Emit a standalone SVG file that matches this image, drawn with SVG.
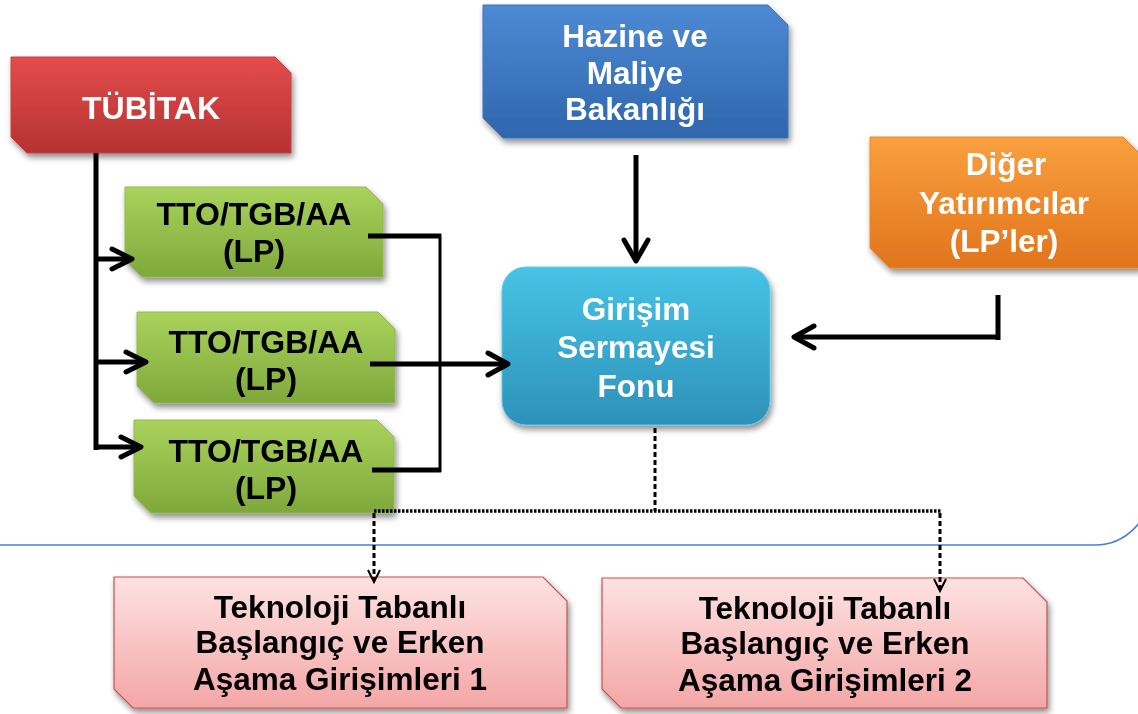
<svg xmlns="http://www.w3.org/2000/svg" width="1138" height="714" viewBox="0 0 1138 714">
<style>
text{font-family:"Liberation Sans",Arial,sans-serif;font-weight:bold;font-size:31.5px;text-anchor:middle}
.big{font-size:32px}
.w{fill:#ffffff}
.k{fill:#000000}
.ln{fill:none;stroke:#000;stroke-width:5;stroke-linecap:butt}
.thin{fill:none;stroke:#000;stroke-width:3}
.dash{fill:none;stroke:#000;stroke-width:3;stroke-dasharray:5 3}
.dot{fill:none;stroke:#000;stroke-width:3.5;stroke-dasharray:2.5 1.5}
.head{fill:none;stroke:#000;stroke-width:5;stroke-linecap:round;stroke-linejoin:round}
.shead{fill:none;stroke:#000;stroke-width:2;stroke-linejoin:miter}
</style>
<defs>
<filter id="sh" x="-10%" y="-10%" width="130%" height="140%">
<feGaussianBlur in="SourceAlpha" stdDeviation="3"/>
<feOffset dx="2" dy="4" result="b"/>
<feComponentTransfer><feFuncA type="linear" slope="0.45"/></feComponentTransfer>
<feMerge><feMergeNode/><feMergeNode in="SourceGraphic"/></feMerge>
</filter>
<linearGradient id="gRed" x1="0" y1="0" x2="0" y2="1"><stop offset="0" stop-color="#e44c4c"/><stop offset="1" stop-color="#b53232"/></linearGradient>
<linearGradient id="gGreen" x1="0" y1="0" x2="0" y2="1"><stop offset="0" stop-color="#a9d35c"/><stop offset="1" stop-color="#7fa83b"/></linearGradient>
<linearGradient id="gBlue" x1="0" y1="0" x2="0" y2="1"><stop offset="0" stop-color="#4d8ad4"/><stop offset="1" stop-color="#2f66ad"/></linearGradient>
<linearGradient id="gOrange" x1="0" y1="0" x2="0" y2="1"><stop offset="0" stop-color="#faa03e"/><stop offset="1" stop-color="#e0741c"/></linearGradient>
<linearGradient id="gCyan" x1="0" y1="0" x2="0" y2="1"><stop offset="0" stop-color="#46c3e6"/><stop offset="1" stop-color="#2e91b9"/></linearGradient>
<linearGradient id="gPink" x1="0" y1="0" x2="0" y2="1"><stop offset="0" stop-color="#fde2e2"/><stop offset="1" stop-color="#f4a6a6"/></linearGradient>
</defs>

<rect width="1138" height="714" fill="#ffffff"/>

<path id="frame" d="M0,545 H1095 A55,55 0 0 0 1150,490" fill="none" stroke="#4a7fd0" stroke-width="1.6"/>

<g id="tubitak" filter="url(#sh)">
<polygon points="11,57 275,57 291,73 291,153 27,153 11,137" fill="url(#gRed)" stroke="#c44040" stroke-width="1"/>
<text class="w big" x="151" y="119">TÜBİTAK</text>
</g>

<g id="hazine" filter="url(#sh)">
<polygon points="483,5 768,5 788,25 788,138 503,138 483,118" fill="url(#gBlue)" stroke="#3a74c0" stroke-width="1"/>
<text class="w" x="635" y="47">Hazine ve</text>
<text class="w" x="635" y="84">Maliye</text>
<text class="w" x="635" y="120">Bakanlığı</text>
</g>

<g id="diger" filter="url(#sh)">
<polygon points="870,137 1123,137 1142,156 1142,268 890,268 870,248" fill="url(#gOrange)" stroke="#e8882c" stroke-width="1"/>
<text class="w" x="1006" y="175">Diğer</text>
<text class="w" x="1004" y="214">Yatırımcılar</text>
<text class="w" x="1004" y="252">(LP’ler)</text>
</g>

<g id="tto1" filter="url(#sh)">
<polygon points="125,187 366,187 383,204 383,277 142,277 125,260" fill="url(#gGreen)" stroke="#8fbb48" stroke-width="1"/>
<text class="k big" x="254" y="225">TTO/TGB/AA</text>
<text class="k big" x="254" y="262">(LP)</text>
</g>

<g id="tto2" filter="url(#sh)">
<polygon points="137,312 378,312 395,329 395,403 154,403 137,386" fill="url(#gGreen)" stroke="#8fbb48" stroke-width="1"/>
<text class="k big" x="266" y="353">TTO/TGB/AA</text>
<text class="k big" x="266" y="390">(LP)</text>
</g>

<g id="tto3" filter="url(#sh)">
<polygon points="134,420 377,420 394,437 394,513 151,513 134,496" fill="url(#gGreen)" stroke="#8fbb48" stroke-width="1"/>
<text class="k big" x="266" y="462">TTO/TGB/AA</text>
<text class="k big" x="266" y="499">(LP)</text>
</g>

<g id="fon" filter="url(#sh)">
<rect x="502" y="267" width="268" height="158" rx="24" ry="24" fill="url(#gCyan)" stroke="#5fcbe8" stroke-width="1"/>
<text class="w" x="636" y="320">Girişim</text>
<text class="w" x="636" y="358">Sermayesi</text>
<text class="w" x="636" y="397">Fonu</text>
</g>

<g id="girisim1" filter="url(#sh)">
<polygon points="114,577 543,577 567,601 567,708 133,708 114,689" fill="url(#gPink)" stroke="#c9504e" stroke-width="1.2"/>
<text class="k" x="340" y="618">Teknoloji Tabanlı</text>
<text class="k" x="340" y="653">Başlangıç ve Erken</text>
<text class="k" x="340" y="690">Aşama Girişimleri 1</text>
</g>

<g id="girisim2" filter="url(#sh)">
<polygon points="602,578 1023,578 1047,602 1047,708 621,708 602,689" fill="url(#gPink)" stroke="#c9504e" stroke-width="1.2"/>
<text class="k" x="825" y="619">Teknoloji Tabanlı</text>
<text class="k" x="825" y="654">Başlangıç ve Erken</text>
<text class="k" x="825" y="691">Aşama Girişimleri 2</text>
</g>

<g id="connectors">
<path class="ln" d="M96,153 V450"/>
<path class="ln" d="M94,259 H131 M94,362 H145 M94,447 H140"/>
<path class="head" d="M112,249 L132,259 L112,269"/>
<path class="head" d="M126,352 L146,362 L126,372"/>
<path class="head" d="M121,437 L141,447 L121,457"/>
<path class="ln" d="M368,236 H441"/>
<path class="ln" d="M372,470 H441"/>
<path class="thin" d="M440,234 V472"/>
<path class="ln" d="M370,364 H506"/>
<path class="head" d="M488,353 L508,364 L488,375"/>
<path class="ln" d="M636,155 V260"/>
<path class="head" d="M624,240 L636,261 L648,240"/>
<path class="ln" d="M998,295 V340 M1000,337 H796"/>
<path class="head" d="M814,326 L794,337 L814,348"/>
<path class="dash" d="M655,428 V511"/>
<path class="dot" d="M374,511 H941"/>
<path class="dash" d="M374,513 V580"/>
<path class="dash" d="M940,513 V589"/>
<path class="shead" d="M368,570 L374,582 L380,570"/>
<path class="shead" d="M934,579 L940,591 L946,579"/>
</g>
</svg>
